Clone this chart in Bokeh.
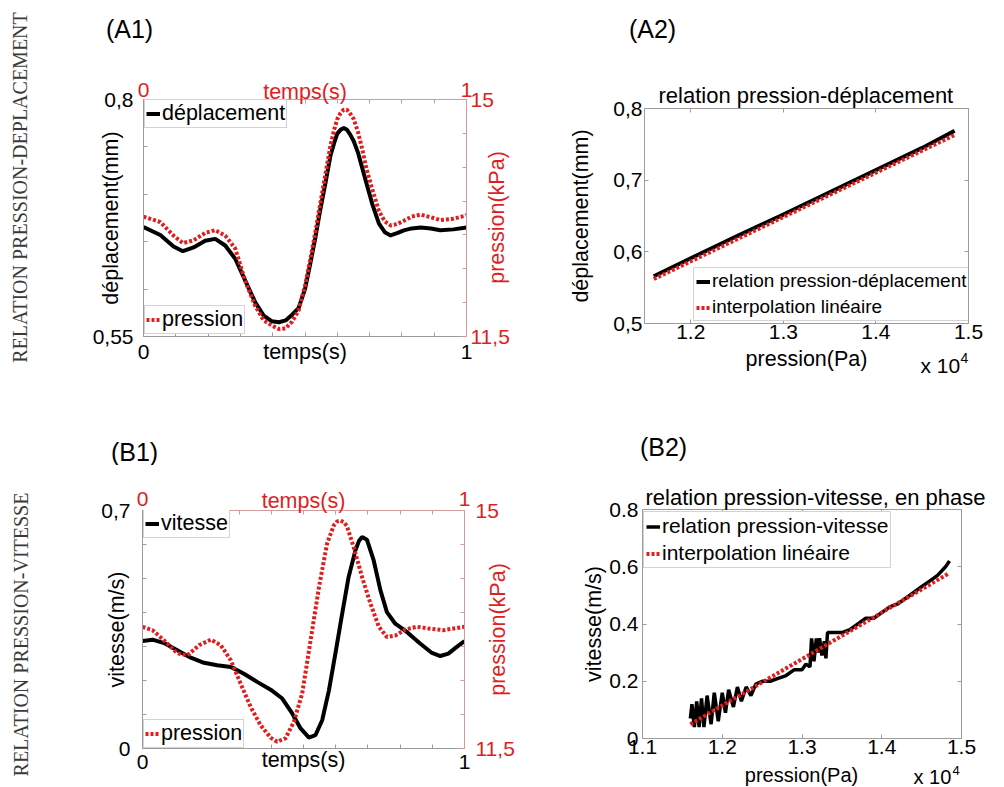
import math
from bokeh.plotting import figure
from bokeh.models import (Range1d, LinearAxis, FixedTicker, CustomJSTickFormatter,
                          Legend, LegendItem, Label)
from bokeh.layouts import row, column
from bokeh.embed import file_html
from bokeh.resources import INLINE

FONT = "Liberation Sans"
SERIF = "Liberation Serif"
RED = "#e01e1e"
GREY = "#9c9c9c"
PINK = "#d39a9a"
BLACK = "#000000"

# ---------------- data ----------------
# (A1) displacement (mm) and pressure (kPa) over time (s)
t_a1 = [0.0, 0.052, 0.093, 0.122, 0.155, 0.191, 0.222, 0.253, 0.284, 0.315, 0.346,
        0.372, 0.398, 0.419, 0.44, 0.46, 0.48, 0.50, 0.517, 0.533, 0.548, 0.564,
        0.579, 0.590, 0.600, 0.610, 0.620, 0.630, 0.640, 0.651, 0.664, 0.677, 0.690,
        0.708, 0.729, 0.747, 0.765, 0.785, 0.806, 0.830, 0.858, 0.89, 0.919, 0.96, 1.0]
depl_a1 = [0.6655, 0.657, 0.645, 0.640, 0.644, 0.651, 0.653, 0.646, 0.632, 0.609, 0.586,
           0.572, 0.566, 0.565, 0.567, 0.573, 0.580, 0.600, 0.628, 0.656, 0.685, 0.713,
           0.741, 0.754, 0.764, 0.768, 0.770, 0.768, 0.763, 0.756, 0.744, 0.728, 0.712,
           0.690, 0.669, 0.660, 0.6566, 0.659, 0.662, 0.664, 0.665, 0.664, 0.662, 0.663,
           0.665]
pres_a1 = [13.27, 13.19, 12.99, 12.88, 12.92, 13.03, 13.07, 12.99, 12.80, 12.32, 11.95,
           11.74, 11.66, 11.61, 11.62, 11.72, 11.88, 12.25, 12.65, 13.07, 13.48, 13.92,
           14.32, 14.55, 14.71, 14.80, 14.85, 14.85, 14.79, 14.71, 14.52, 14.27, 13.98,
           13.68, 13.35, 13.20, 13.14, 13.16, 13.21, 13.27, 13.30, 13.26, 13.22, 13.24,
           13.29]

# (A2) pressure (Pa) vs displacement (mm)
pa_a2 = [11600, 12000, 12500, 13000, 13500, 14000, 14500, 14850]
depl_a2 = [0.566, 0.591, 0.622, 0.652, 0.683, 0.714, 0.745, 0.769]
pa_a2_fit = [11600, 14850]
depl_a2_fit = [0.562, 0.763]

# (B1) velocity (m/s) and pressure (kPa) over time (s)
t_b1_v = [0.0, 0.031, 0.067, 0.108, 0.150, 0.191, 0.232, 0.274, 0.315, 0.356, 0.398,
          0.434, 0.465, 0.491, 0.517, 0.537, 0.558, 0.579, 0.599, 0.620, 0.640, 0.661,
          0.672, 0.682, 0.697, 0.718, 0.739, 0.759, 0.785, 0.821, 0.863, 0.899, 0.925,
          0.950, 0.976, 1.0]
vit_b1 = [0.316, 0.320, 0.310, 0.289, 0.267, 0.252, 0.245, 0.240, 0.220, 0.196, 0.173,
          0.147, 0.103, 0.059, 0.032, 0.039, 0.083, 0.171, 0.279, 0.396, 0.504, 0.582,
          0.610, 0.622, 0.614, 0.553, 0.465, 0.401, 0.367, 0.343, 0.308, 0.281, 0.272,
          0.279, 0.299, 0.316]
t_b1_p = [0.0, 0.031, 0.067, 0.108, 0.139, 0.176, 0.212, 0.243, 0.274, 0.305, 0.336,
          0.367, 0.398, 0.418, 0.444, 0.470, 0.496, 0.522, 0.548, 0.573, 0.594, 0.605,
          0.615, 0.625, 0.635, 0.656, 0.682, 0.708, 0.734, 0.759, 0.785, 0.816, 0.852,
          0.894, 0.935, 1.0]
pres_b1 = [13.29, 13.24, 13.09, 12.90, 12.87, 13.02, 13.10, 13.02, 12.80, 12.45, 12.11,
           11.84, 11.66, 11.60, 11.65, 11.89, 12.31, 13.09, 13.87, 14.51, 14.78, 14.84,
           14.85, 14.83, 14.77, 14.46, 14.02, 13.63, 13.29, 13.14, 13.16, 13.25, 13.29,
           13.26, 13.24, 13.29]

# (B2) pressure (Pa) vs velocity (m/s)
pa_b2 = [11600, 11620, 11650, 11680, 11710, 11740, 11770, 11810, 11860, 11900, 11950,
         12000, 12040, 12080, 12140, 12190, 12240, 12300, 12360, 12420, 12500, 12600,
         12700, 12800, 12900, 13000, 13050, 13100, 13120, 13150, 13180, 13200, 13220,
         13250, 13280, 13300, 13320, 13400, 13500, 13600, 13700, 13800, 13900, 14000,
         14100, 14200, 14300, 14400, 14500, 14600, 14700, 14800, 14850]
vit_b2 = [0.07, 0.12, 0.04, 0.13, 0.04, 0.14, 0.04, 0.15, 0.05, 0.16, 0.06,
          0.16, 0.09, 0.17, 0.11, 0.18, 0.13, 0.18, 0.15, 0.19, 0.20, 0.20,
          0.21, 0.22, 0.24, 0.24, 0.26, 0.25, 0.35, 0.27, 0.35, 0.30, 0.35,
          0.29, 0.34, 0.28, 0.37, 0.37, 0.37, 0.38, 0.40, 0.42, 0.42, 0.44,
          0.46, 0.47, 0.49, 0.51, 0.53, 0.55, 0.57, 0.60, 0.62]
pa_b2_fit = [11600, 14850]
vit_b2_fit = [0.05, 0.578]

# ticks
t_major = [0.0, 1.0]
t_minor = [0.1, 0.2, 0.3, 0.4, 0.5, 0.6, 0.7, 0.8, 0.9]
kpa_major = [11.5, 15.0]
kpa_minor = [12.0, 12.5, 13.0, 13.5, 14.0, 14.5]
a1_y_major = [0.55, 0.8]
a1_y_minor = [0.6, 0.65, 0.7, 0.75]
b1_y_major = [0.0, 0.7]
b1_y_minor = [0.1, 0.2, 0.3, 0.4, 0.5, 0.6]
a2_y_ticks = [0.5, 0.6, 0.7, 0.8]
a2_x_ticks = [12000, 13000, 14000, 15000]
b2_y_ticks = [0.0, 0.2, 0.4, 0.6, 0.8]
b2_x_ticks = [11000, 12000, 13000, 14000, 15000]

COMMA = CustomJSTickFormatter(code="return tick.toString().replace('.', ',')")
E4 = CustomJSTickFormatter(code="return (tick/1e4).toFixed(1)")
DOT1 = CustomJSTickFormatter(code="return tick == 0 ? '0' : tick.toFixed(1)")

HAS_FRAME_ALIGN = "frame_align" in figure.properties()


def make_fig(w, h, l, r, t, b, xr, yr):
    p = figure(width=w, height=h, x_range=xr, y_range=yr, output_backend="svg",
               toolbar_location=None, min_border_left=l, min_border_right=r,
               min_border_top=t, min_border_bottom=b)
    p.grid.visible = False
    p.outline_line_color = None
    p.background_fill_color = "white"
    p.border_fill_color = "white"
    if HAS_FRAME_ALIGN:
        p.frame_align = False
    return p


def label_fig(w, h, overlay=False):
    p = figure(width=w, height=h, x_range=Range1d(0, w), y_range=Range1d(0, h),
               output_backend="svg", toolbar_location=None, min_border=0,
               x_axis_location=None, y_axis_location=None)
    p.grid.visible = False
    p.outline_line_color = None
    if overlay:
        p.background_fill_color = None
        p.border_fill_color = None
        p.margin = (0, 0, 0, -w)
    else:
        p.background_fill_color = "white"
        p.border_fill_color = "white"
    if HAS_FRAME_ALIGN:
        p.frame_align = False
    return p


def put(p, s, x, y_top, size="21px", font=FONT, color=BLACK, angle=0.0,
        align="center", baseline="middle"):
    p.add_layout(Label(x=x, y=p.height - y_top, text=s, text_font=font,
                       text_font_size=size, text_color=color, angle=angle,
                       text_align=align, text_baseline=baseline))


def style_axis(ax, line_color, text_color, ticks, minor, fmt=None, label=None,
               label_standoff=5, tick_standoff=5, show_labels=True):
    ax.ticker = FixedTicker(ticks=ticks, minor_ticks=minor)
    if fmt is not None:
        ax.formatter = fmt
    ax.major_tick_in = 4
    ax.major_tick_out = 0
    ax.minor_tick_in = 4
    ax.minor_tick_out = 0
    ax.axis_line_color = line_color
    ax.major_tick_line_color = line_color
    ax.minor_tick_line_color = line_color
    ax.major_label_text_font = FONT
    if show_labels:
        ax.major_label_text_color = text_color
        ax.major_label_text_font_size = "21px"
        ax.major_label_standoff = tick_standoff
    else:
        ax.major_label_text_color = None
        ax.major_label_text_font_size = "2px"
        ax.major_label_standoff = 0
    if label:
        ax.axis_label = label
        ax.axis_label_text_font = FONT
        ax.axis_label_text_font_size = "21.5px"
        ax.axis_label_text_font_style = "normal"
        ax.axis_label_text_color = text_color
        ax.axis_label_standoff = label_standoff


def legend(items, loc, size="21.5px", pad=1, spacing=2):
    return Legend(items=items, location=loc, label_text_font=FONT,
                  label_text_font_size=size, label_text_color=BLACK,
                  border_line_color="#a8a8a8", border_line_width=1,
                  background_fill_color="white", background_fill_alpha=1.0,
                  padding=pad, spacing=spacing, margin=0, glyph_width=14,
                  glyph_height=21, label_height=21, label_standoff=2)


def time_panel(w, h, borders, y_rng, y_major, y_minor, y_label, y_tick_so, y_lab_so,
               r_tick_so, b_tick_so, b_lab_so, t_tick_so, t_lab_so):
    l, r, t, b = borders
    p = make_fig(w, h, l, r, t, b, Range1d(0, 1), Range1d(*y_rng))
    p.extra_y_ranges = {"kpa": Range1d(11.5, 15.0)}
    style_axis(p.xaxis[0], GREY, BLACK, t_major, t_minor, label="temps(s)",
               tick_standoff=b_tick_so, label_standoff=b_lab_so)
    style_axis(p.yaxis[0], GREY, BLACK, y_major, y_minor, fmt=COMMA, label=y_label,
               tick_standoff=y_tick_so, label_standoff=y_lab_so)
    top = LinearAxis()
    style_axis(top, PINK, RED, t_major, t_minor, label="temps(s)",
               tick_standoff=t_tick_so, label_standoff=t_lab_so)
    p.add_layout(top, "above")
    right = LinearAxis(y_range_name="kpa")
    style_axis(right, PINK, RED, kpa_major, kpa_minor, fmt=COMMA,
               tick_standoff=r_tick_so)
    p.add_layout(right, "right")
    return p


def mirror_axes(p, xt, yt):
    for side, ticks in (("above", xt), ("right", yt)):
        ax = LinearAxis()
        style_axis(ax, GREY, BLACK, ticks, [], show_labels=False)
        p.add_layout(ax, side)


def set_title(p, s, offset, standoff):
    p.title.text = s
    p.title.align = "left"
    p.title.offset = offset
    p.title.text_font = FONT
    p.title.text_font_size = "22px"
    p.title.text_font_style = "normal"
    p.title.text_color = BLACK
    p.title.standoff = standoff


# ---------------- side labels ----------------
side = label_fig(34, 786)
put(side, "RELATION PRESSION-DEPLACEMENT", 19, 187, size="20px", font=SERIF,
    color="#3a3a3a", angle=math.pi / 2)
put(side, "RELATION PRESSION-VITESSE", 20, 634, size="20px", font=SERIF,
    color="#3a3a3a", angle=math.pi / 2)

# ---------------- panel tags ----------------
strip_top = label_fig(968, 45)
put(strip_top, "(A1)", 95, 28, size="25px")
put(strip_top, "(A2)", 618, 28, size="25px")

strip_mid = label_fig(968, 65)
put(strip_mid, "(B1)", 100, 51, size="25px")
put(strip_mid, "(B2)", 629, 46, size="25px")

# ---------------- (A1) ----------------
pA1 = time_panel(486, 355, (109, 54, 54, 64), (0.55, 0.8), a1_y_major, a1_y_minor,
                 "déplacement(mm)", 10, -33, 4, 8, -22, 3, -24)
rA1d = pA1.line(t_a1, depl_a1, line_color=BLACK, line_width=4)
rA1p = pA1.line(t_a1, pres_a1, y_range_name="kpa", line_color=RED, line_width=4,
                line_dash="3 2")
pA1.add_layout(legend([LegendItem(label="déplacement", renderers=[rA1d])], (1, 208)))
pA1.add_layout(legend([LegendItem(label="pression", renderers=[rA1p])], (1, 2)))

# right-axis title of (A1), overlaid on the right border of the panel
rlab_a1 = label_fig(40, 355, overlay=True)
put(rlab_a1, "pression(kPa)", 16, 172, size="21.5px", color=RED, angle=math.pi / 2)

# ---------------- (A2) ----------------
pA2 = make_fig(482, 303, 124, 34, 63, 25, Range1d(11500, 15000), Range1d(0.5, 0.8))
style_axis(pA2.xaxis[0], GREY, BLACK, a2_x_ticks, [], fmt=E4, tick_standoff=1)
style_axis(pA2.yaxis[0], GREY, BLACK, a2_y_ticks, [], fmt=COMMA, label="déplacement(mm)",
           tick_standoff=2, label_standoff=17)
mirror_axes(pA2, a2_x_ticks, a2_y_ticks)
set_title(pA2, "relation pression-déplacement", 14, 2)
rA2 = pA2.line(pa_a2, depl_a2, line_color=BLACK, line_width=4)
rA2f = pA2.line(pa_a2_fit, depl_a2_fit, line_color=RED, line_width=4, line_dash="3 2")
pA2.add_layout(legend([LegendItem(label="relation pression-déplacement", renderers=[rA2]),
                       LegendItem(label="interpolation linéaire", renderers=[rA2f])],
                      (49, 2), size="19px", pad=2, spacing=4))

strip_a2 = label_fig(482, 52)
put(strip_a2, "pression(Pa)", 286, 10, size="21.5px")
put(strip_a2, "x 10", 400, 17, align="left")
put(strip_a2, "4", 440, 9, size="14px", align="left")

# ---------------- (B1) ----------------
pB1 = time_panel(486, 321, (108, 56, 45, 38), (0.0, 0.7), b1_y_major, b1_y_minor,
                 "vitesse(m/s)", 12, -31, 11, 6, -24, 5, -24)
rB1v = pB1.line(t_b1_v, vit_b1, line_color=BLACK, line_width=4)
rB1p = pB1.line(t_b1_p, pres_b1, y_range_name="kpa", line_color=RED, line_width=4,
                line_dash="3 2")
pB1.add_layout(legend([LegendItem(label="vitesse", renderers=[rB1v])], (1, 210)))
pB1.add_layout(legend([LegendItem(label="pression", renderers=[rB1p])], (1, 0)))

rlab_b1 = label_fig(40, 321, overlay=True)
put(rlab_b1, "pression(kPa)", 17, 164, size="21.5px", color=RED, angle=math.pi / 2)

# ---------------- (B2) ----------------
pB2 = make_fig(482, 298, 122, 41, 44, 25, Range1d(11000, 15000), Range1d(0.0, 0.8))
style_axis(pB2.xaxis[0], GREY, BLACK, b2_x_ticks, [], fmt=E4, tick_standoff=1)
style_axis(pB2.yaxis[0], GREY, BLACK, b2_y_ticks, [], fmt=DOT1, label="vitesse(m/s)",
           tick_standoff=4, label_standoff=0)
mirror_axes(pB2, b2_x_ticks, b2_y_ticks)
set_title(pB2, "relation pression-vitesse, en phase", 3, 0)
rB2 = pB2.line(pa_b2, vit_b2, line_color=BLACK, line_width=3.5)
rB2f = pB2.line(pa_b2_fit, vit_b2_fit, line_color=RED, line_width=4, line_dash="3 2")
pB2.add_layout(legend([LegendItem(label="relation pression-vitesse", renderers=[rB2]),
                       LegendItem(label="interpolation linéaire", renderers=[rB2f])],
                      (1, 170), size="21px", pad=2, spacing=3))

strip_b2 = label_fig(482, 23)
put(strip_b2, "pression(Pa)", 281, 11, size="20px")
put(strip_b2, "x 10", 393, 13, size="20px", align="left")
put(strip_b2, "4", 432, 7, size="13px", align="left")

layout = row(side,
             column(strip_top,
                    row(pA1, rlab_a1, column(pA2, strip_a2)),
                    strip_mid,
                    row(pB1, rlab_b1, column(pB2, strip_b2))))
open("out.html", "w").write(file_html(layout, INLINE))
